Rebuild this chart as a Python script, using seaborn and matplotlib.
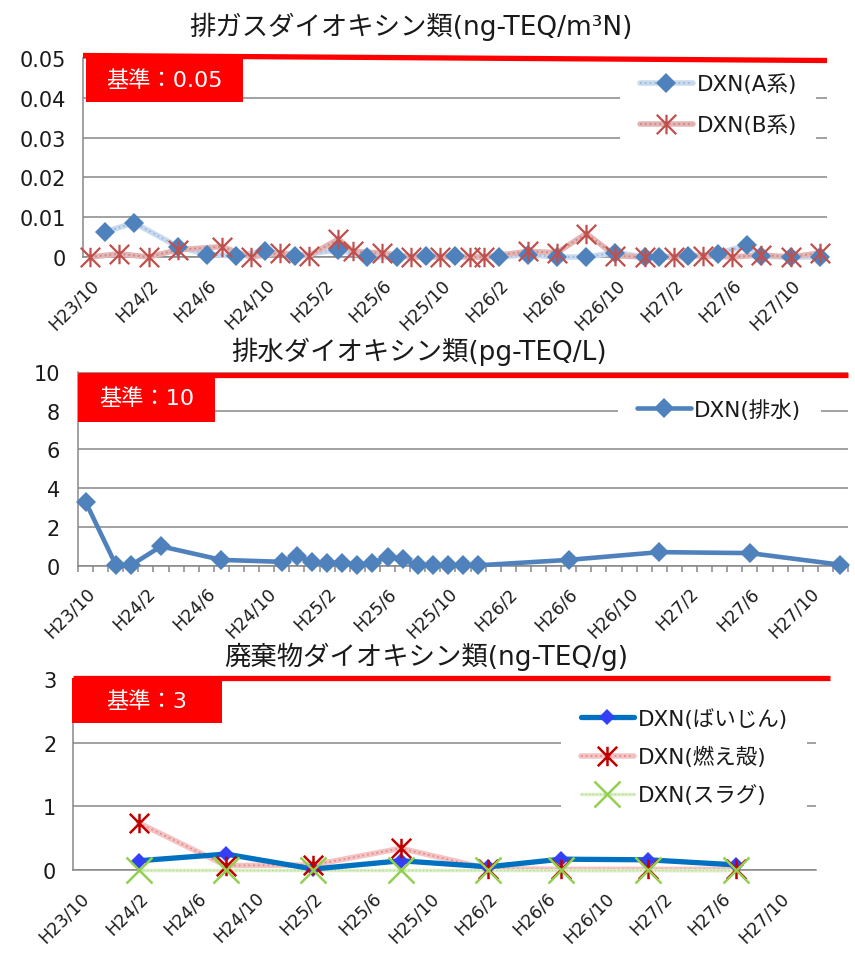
import numpy as np
import pandas as pd
import matplotlib
matplotlib.use("Agg")
import matplotlib.pyplot as plt
import seaborn as sns
from matplotlib.path import Path
from matplotlib.patches import Rectangle
from matplotlib.legend_handler import HandlerTuple

# ---------------- data ----------------
axis_start = "2011-10"
axis_end = "2015-12"
x_tick_dates = ["2011-10", "2012-02", "2012-06", "2012-10", "2013-02", "2013-06", "2013-10",
                "2014-02", "2014-06", "2014-10", "2015-02", "2015-06", "2015-10"]
x_tick_labels = ["H23/10", "H24/2", "H24/6", "H24/10", "H25/2", "H25/6", "H25/10",
                 "H26/2", "H26/6", "H26/10", "H27/2", "H27/6", "H27/10"]

# chart 1 : exhaust gas (ng-TEQ/m3N)
gas_title = "排ガスダイオキシン類(ng-TEQ/m³N)"
gas_limit_text = "基準：0.05"
gas_yticks = [0, 0.01, 0.02, 0.03, 0.04, 0.05]
gas_ytick_labels = ["0", "0.01", "0.02", "0.03", "0.04", "0.05"]
gas_a_label = "DXN(A系)"
gas_a_dates = ["2011-11", "2012-01", "2012-04", "2012-06", "2012-08", "2012-10", "2012-12",
               "2013-03", "2013-05", "2013-07", "2013-09", "2013-11", "2014-02", "2014-04",
               "2014-06", "2014-08", "2014-10", "2014-12", "2015-01", "2015-03", "2015-05",
               "2015-07", "2015-08", "2015-10", "2015-12"]
gas_a_values = [0.0063, 0.0086, 0.0026, 0.0006, 0.0003, 0.0014, 0.0003,
                0.0018, 0.0, 0.0, 0.0003, 0.0002, 0.0, 0.0006,
                0.0, 0.0, 0.0011, 0.0, 0.0, 0.0002, 0.0008,
                0.0030, 0.0002, 0.0, 0.0]
gas_b_label = "DXN(B系)"
gas_b_dates = ["2011-10", "2011-12", "2012-02", "2012-04", "2012-07", "2012-09", "2012-11",
               "2013-01", "2013-03", "2013-04", "2013-06", "2013-08", "2013-10", "2013-12",
               "2014-01", "2014-04", "2014-06", "2014-08", "2014-10", "2014-12", "2015-02",
               "2015-04", "2015-06", "2015-08", "2015-10", "2015-12"]
gas_b_values = [0.0, 0.0008, 0.0, 0.0018, 0.0026, 0.0, 0.001,
                0.0003, 0.0045, 0.0014, 0.001, 0.0, 0.0, 0.0,
                0.0, 0.0014, 0.0011, 0.0059, 0.0003, 0.0, 0.0,
                0.0003, 0.0, 0.0005, 0.0, 0.001]

# chart 2 : waste water (pg-TEQ/L)
water_title = "排水ダイオキシン類(pg-TEQ/L)"
water_limit_text = "基準：10"
water_yticks = [0, 2, 4, 6, 8, 10]
water_label = "DXN(排水)"
water_dates = ["2011-10", "2011-12", "2012-01", "2012-03", "2012-07", "2012-11", "2012-12",
               "2013-01", "2013-02", "2013-03", "2013-04", "2013-05", "2013-06", "2013-07",
               "2013-08", "2013-09", "2013-10", "2013-11", "2013-12", "2014-06", "2014-12",
               "2015-06", "2015-12"]
water_values = [3.3, 0.05, 0.02, 1.0, 0.3, 0.2, 0.5,
                0.2, 0.15, 0.15, 0.02, 0.15, 0.45, 0.35,
                0.02, 0.02, 0.02, 0.02, 0.02, 0.3, 0.7,
                0.65, 0.05]

# chart 3 : waste (ng-TEQ/g)
waste_title = "廃棄物ダイオキシン類(ng-TEQ/g)"
waste_limit_text = "基準：3"
waste_yticks = [0, 1, 2, 3]
waste_dates = ["2012-02", "2012-08", "2013-02", "2013-08", "2014-02", "2014-07", "2015-01", "2015-07"]
ash_label = "DXN(ばいじん)"
ash_values = [0.145, 0.25, 0.015, 0.145, 0.05, 0.17, 0.16, 0.08]
cinder_label = "DXN(燃え殻)"
cinder_values = [0.74, 0.07, 0.08, 0.34, 0.02, 0.01, 0.01, 0.01]
slag_label = "DXN(スラグ)"
slag_values = [0.0, 0.0, 0.0, 0.0, 0.0, 0.0, 0.0, 0.0]

# ---------------- helpers ----------------
start_p = pd.Period(axis_start, freq="M")
end_p = pd.Period(axis_end, freq="M")


def mi(dates):
    return np.array([(pd.Period(d, freq="M") - start_p).n for d in dates], dtype=float)


n_months = (end_p - start_p).n + 1

sns.set_theme(style="white")
plt.rcParams["font.family"] = ["DejaVu Sans", "Noto Sans CJK JP"]
plt.rcParams["axes.unicode_minus"] = False

W, H = 855, 954
fig = plt.figure(figsize=(W / 100, H / 100), dpi=100)
fig.patch.set_facecolor("white")

GRID = "#878787"
TXT = "#1a1a1a"

star_path = Path([(0, -1), (0, 1), (-1, -1), (1, 1), (-1, 1), (1, -1)],
                 [Path.MOVETO, Path.LINETO, Path.MOVETO, Path.LINETO, Path.MOVETO, Path.LINETO])


def px_axes(l, r, t, b):
    return fig.add_axes([l / W, 1 - b / H, (r - l) / W, (b - t) / H])


def style_axes(ax, yticks, ylabels, ymax, ytick_len=0, minor=False, xpad=13):
    ax.set_xlim(-0.5, n_months - 0.5)
    ax.set_ylim(0, ymax)
    ax.set_yticks(yticks)
    ax.set_yticklabels(ylabels, fontsize=15, color=TXT)
    ax.set_xticks(mi(x_tick_dates))
    ax.set_xticklabels(x_tick_labels, rotation=45, ha="right", va="top",
                       rotation_mode="anchor", fontsize=12.5, color=TXT)
    ax.tick_params(axis="x", which="major", length=0, pad=xpad)
    ax.tick_params(axis="y", length=ytick_len, width=1.1, color=GRID, pad=12 if ytick_len == 0 else 8)
    if minor:
        ax.set_xticks(np.arange(-0.5, n_months, 1.0), minor=True)
        ax.tick_params(axis="x", which="minor", length=4, width=1.1, color=GRID, direction="out", bottom=True)
    ax.yaxis.grid(True, color=GRID, lw=1.1)
    ax.xaxis.grid(False)
    ax.set_axisbelow(True)
    for s in ["top", "right"]:
        ax.spines[s].set_visible(False)
    for s in ["left", "bottom"]:
        ax.spines[s].set_color(GRID)
        ax.spines[s].set_linewidth(1.1)
    ax.set_facecolor("none")


def limit_band(ax, y_left, y_right, box, text, x_right=1.0):
    ax.plot([0, x_right], [y_left, y_right], transform=ax.transAxes, color="#FF0000",
            lw=3.8, clip_on=False, solid_capstyle="butt", zorder=6)
    x0, y0, x1, y1 = box
    ax.add_patch(Rectangle((x0, y0), x1 - x0, y1 - y0, transform=ax.transAxes,
                           facecolor="#FF0000", edgecolor="none", clip_on=False, zorder=6))
    ax.text((x0 + x1) / 2, (y0 + y1) / 2, text, transform=ax.transAxes, color="white",
            fontsize=16, ha="center", va="center", zorder=7)


def legend_white(ax, handles, labels, anchor, spacing):
    leg = ax.legend(handles, labels, loc="center left", bbox_to_anchor=anchor,
                    fontsize=15.5, frameon=True, framealpha=1, facecolor="white",
                    edgecolor="none", borderaxespad=0, borderpad=0.9, handlelength=2.5,
                    handletextpad=0.15, labelspacing=spacing, fancybox=False,
                    handler_map={tuple: HandlerTuple(ndivide=1, pad=0)})
    for t in leg.get_texts():
        t.set_color(TXT)
    leg.set_zorder(5)
    return leg


# ---------------- chart 1 ----------------
ax1 = px_axes(83, 827, 59, 258)
style_axes(ax1, gas_yticks, gas_ytick_labels, 0.05)
xa, xb = mi(gas_a_dates), mi(gas_b_dates)
sns.lineplot(x=xa, y=gas_a_values, ax=ax1, color="#C9DAEE", lw=4.0, clip_on=False, zorder=3)
a_base = ax1.lines[-1]
sns.lineplot(x=xa, y=gas_a_values, ax=ax1, color="#9DB9DC", lw=1.3, linestyle=":", clip_on=False, zorder=3)
a_dot = ax1.lines[-1]
sns.lineplot(x=xb, y=gas_b_values, ax=ax1, color="#E3B6B5", lw=4.0, clip_on=False, zorder=3)
b_base = ax1.lines[-1]
sns.lineplot(x=xb, y=gas_b_values, ax=ax1, color="#C98886", lw=1.3, linestyle=":", clip_on=False, zorder=3)
b_dot = ax1.lines[-1]
sns.lineplot(x=xa, y=gas_a_values, ax=ax1, color="#4F81BD", linestyle="", marker="D",
             markersize=10, markeredgewidth=0, clip_on=False, zorder=4)
a_mk = ax1.lines[-1]
sns.lineplot(x=xb, y=gas_b_values, ax=ax1, color="#C0504D", linestyle="", marker=star_path,
             markersize=14, markeredgewidth=1.6, markerfacecolor="none", markeredgecolor="#C0504D",
             clip_on=False, zorder=4)
b_mk = ax1.lines[-1]
limit_band(ax1, 1.0126, 0.9874, (0.004, 0.779, 0.215, 1.0), gas_limit_text)
legend_white(ax1, [(a_base, a_dot, a_mk), (b_base, b_dot, b_mk)], [gas_a_label, gas_b_label],
             (0.722, 0.766), 0.95)
fig.text(411 / W, 1 - 27 / H, gas_title, ha="center", va="center", fontsize=19, color=TXT)

# ---------------- chart 2 ----------------
ax2 = px_axes(78, 848, 373, 566.7)
style_axes(ax2, water_yticks, [str(v) for v in water_yticks], 10, ytick_len=5, minor=True)
xw = mi(water_dates)
sns.lineplot(x=xw, y=water_values, ax=ax2, color="#4F81BD", lw=3.3, marker="D", markersize=10,
             markeredgewidth=0, clip_on=False, zorder=4)
w_line = ax2.lines[-1]
limit_band(ax2, 0.985, 0.985, (0.0, 0.742, 0.178, 0.99), water_limit_text)
legend_white(ax2, [w_line], [water_label], (0.701, 0.809), 0.75)
fig.text(419 / W, 1 - 352 / H, water_title, ha="center", va="center", fontsize=19, color=TXT)

# ---------------- chart 3 ----------------
ax3 = px_axes(73, 816, 680, 871)
style_axes(ax3, waste_yticks, [str(v) for v in waste_yticks], 3)
xs = mi(waste_dates)
sns.lineplot(x=xs, y=cinder_values, ax=ax3, color="#F4C4C4", lw=4.0, clip_on=False, zorder=3)
c_base = ax3.lines[-1]
sns.lineplot(x=xs, y=cinder_values, ax=ax3, color="#E48A8A", lw=1.3, linestyle=":", clip_on=False, zorder=3)
c_dot = ax3.lines[-1]
sns.lineplot(x=xs, y=slag_values, ax=ax3, color="#DCEFC8", lw=2.5, clip_on=False, zorder=3)
s_base = ax3.lines[-1]
sns.lineplot(x=xs, y=slag_values, ax=ax3, color="#B5DC8F", lw=1.0, linestyle=":", clip_on=False, zorder=3)
s_dot = ax3.lines[-1]
sns.lineplot(x=xs, y=ash_values, ax=ax3, color="#0070C0", lw=3.8, clip_on=False, zorder=3.5,
             solid_capstyle="round")
ash_line = ax3.lines[-1]
sns.lineplot(x=xs, y=ash_values, ax=ax3, color="#3440F5", linestyle="", marker="D",
             markersize=8.5, markeredgewidth=0, clip_on=False, zorder=4)
ash_mk = ax3.lines[-1]
sns.lineplot(x=xs, y=cinder_values, ax=ax3, color="#C00000", linestyle="", marker=star_path,
             markersize=14, markeredgewidth=1.8, markerfacecolor="none", markeredgecolor="#C00000",
             clip_on=False, zorder=4.2)
c_mk = ax3.lines[-1]
sns.lineplot(x=xs, y=slag_values, ax=ax3, color="#92D050", linestyle="", marker="x",
             markersize=19, markeredgewidth=1.8, markeredgecolor="#92D050",
             clip_on=False, zorder=4.4)
s_mk = ax3.lines[-1]
limit_band(ax3, 1.005, 1.005, (-0.001, 0.77, 0.2, 1.005), waste_limit_text, x_right=(830 - 73) / 743)
legend_white(ax3, [(ash_line, ash_mk), (c_base, c_dot, c_mk), (s_base, s_dot, s_mk)],
             [ash_label, cinder_label, slag_label], (0.657, 0.594), 0.8)
fig.text(426 / W, 1 - 657 / H, waste_title, ha="center", va="center", fontsize=19, color=TXT)

fig.savefig("out.png", dpi=100, facecolor="white")
